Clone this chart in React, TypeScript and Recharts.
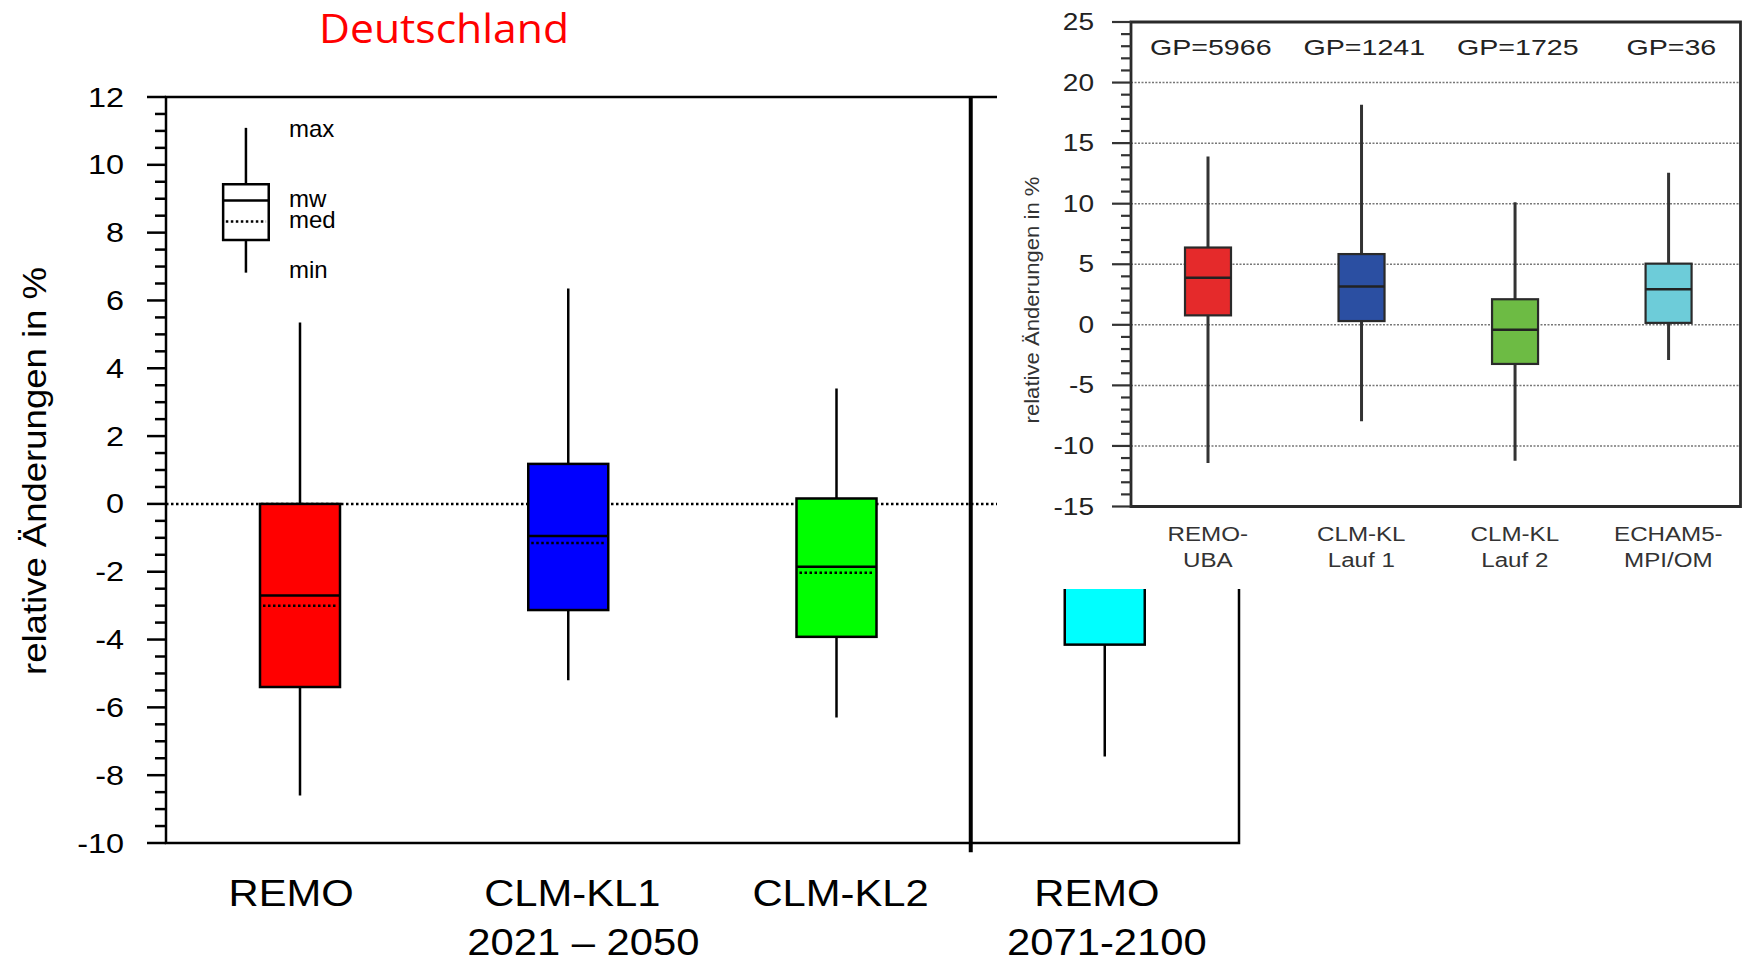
import React from 'react';
import { ComposedChart, Bar, XAxis, YAxis, CartesianGrid, ReferenceLine, ReferenceArea } from 'recharts';

// main panel: Deutschland, relative change in %
const mainCatTop = ['REMO', 'CLM-KL1', 'CLM-KL2', 'REMO'];
const mainCatBottom = ['', '2021 – 2050', '', '2071-2100'];
const mainMin = [-8.6, -5.2, -6.3, -7.45];
const mainQ1 = [-5.4, -3.13, -3.92, -4.15];
const mainMedian = [-3.0, -1.15, -2.03, -1.8];
const mainMean = [-2.7, -0.95, -1.85, -1.5];
const mainQ3 = [0.0, 1.18, 0.16, 0.8];
const mainMax = [5.35, 6.35, 3.4, 5.5];
const mainFill = ['#ff0000', '#0000ff', '#00ff00', '#00ffff'];
const mainMajorTicks = [-10, -8, -6, -4, -2, 0, 2, 4, 6, 8, 10, 12];

// explanation box (min, q1, med, mw, q3, max)
const keyValues = [6.82, 7.78, 8.33, 8.95, 9.43, 11.09];
const keyLabels = ['max', 'mw', 'med', 'min'];

// inset panel
const insetCatTop = ['REMO-', 'CLM-KL', 'CLM-KL', 'ECHAM5-'];
const insetCatBottom = ['UBA', 'Lauf 1', 'Lauf 2', 'MPI/OM'];
const insetGP = ['GP=5966', 'GP=1241', 'GP=1725', 'GP=36'];
const insetMin = [-11.4, -7.97, -11.23, -2.91];
const insetQ1 = [0.78, 0.31, -3.23, 0.16];
const insetMid = [3.89, 3.16, -0.41, 2.94];
const insetQ3 = [6.38, 5.84, 2.11, 5.05];
const insetMax = [13.9, 18.17, 10.11, 12.55];
const insetFill = ['#e52a2b', '#2b4fa2', '#6dbb44', '#6dccd9'];
const insetMajorTicks = [-15, -10, -5, 0, 5, 10, 15, 20, 25];
const insetGrid = [-10, -5, 0, 5, 10, 15, 20];

const SANS = '"Liberation Sans", Arial, sans-serif';

const steps = (lo: number, hi: number, step: number) => {
  const out: number[] = [];
  for (let v = lo; v <= hi + 1e-9; v += step) out.push(Math.round(v * 100) / 100);
  return out;
};

const mainData = mainCatTop.map((_, i) => ({
  pos: i + 0.5,
  range: [mainMin[i], mainMax[i]],
  min: mainMin[i], q1: mainQ1[i], median: mainMedian[i], mean: mainMean[i], q3: mainQ3[i], max: mainMax[i],
  fill: mainFill[i],
}));

const insetData = insetCatTop.map((_, i) => ({
  pos: i + 0.5,
  range: [insetMin[i], insetMax[i]],
  min: insetMin[i], q1: insetQ1[i], mid: insetMid[i], q3: insetQ3[i], max: insetMax[i],
  fill: insetFill[i],
}));

// maps a value to pixels using the bar's own (scaled) top/height
const pixelOf = (props: any) => {
  const { y, height, payload } = props;
  const top = Math.min(y, y + height);
  const h = Math.abs(height);
  const span = payload.max - payload.min;
  return (v: number) => top + ((payload.max - v) / span) * h;
};

const MainBox = (props: any) => {
  const { x, width, payload } = props;
  const py = pixelOf(props);
  const cx = x + width / 2;
  return (
    <g>
      <line x1={cx} x2={cx} y1={py(payload.max)} y2={py(payload.min)} stroke="#000" strokeWidth={2.5} />
      <rect x={x} y={py(payload.q3)} width={width} height={py(payload.q1) - py(payload.q3)} fill={payload.fill} stroke="#000" strokeWidth={2.5} />
      <line x1={x} x2={x + width} y1={py(payload.mean)} y2={py(payload.mean)} stroke="#000" strokeWidth={2.5} />
      <line x1={x + 3} x2={x + width - 3} y1={py(payload.median)} y2={py(payload.median)} stroke="#000" strokeWidth={2.5} strokeDasharray="2.5 2.5" />
    </g>
  );
};

const InsetBox = (props: any) => {
  const { x, width, payload } = props;
  const py = pixelOf(props);
  const cx = x + width / 2;
  return (
    <g>
      <line x1={cx} x2={cx} y1={py(payload.max)} y2={py(payload.min)} stroke="#333" strokeWidth={3} />
      <rect x={x} y={py(payload.q3)} width={width} height={py(payload.q1) - py(payload.q3)} fill={payload.fill} stroke="#2a2a2a" strokeWidth={2.2} />
      <line x1={x} x2={x + width} y1={py(payload.mid)} y2={py(payload.mid)} stroke="#222" strokeWidth={2.5} />
    </g>
  );
};

const MainYTick = (p: any) => {
  const v = p.payload.value;
  const major = mainMajorTicks.includes(v);
  return (
    <g>
      <line x1={p.x - (major ? 19 : 11)} x2={p.x} y1={p.y} y2={p.y} stroke="#000" strokeWidth={2.5} />
      {major && (
        <g transform={`translate(${p.x - 42},${p.y + 9.5}) scale(1.2,1)`}>
          <text textAnchor="end" fontFamily={SANS} fontSize={27} fill="#000">{String(v)}</text>
        </g>
      )}
    </g>
  );
};

// [dx line 1, dx line 2]
const mainLabelNudge = [[-9, 0], [4, 15], [4, 0], [-8, 2]];

const MainXTick = (p: any) => {
  const i = Math.round(p.payload.value - 0.5);
  const n = mainLabelNudge[i];
  return (
    <g>
      <g transform={`translate(${p.x + n[0]},${p.y + 63}) scale(1.16,1)`}>
        <text textAnchor="middle" fontFamily={SANS} fontSize={36} fill="#000">{mainCatTop[i]}</text>
      </g>
      {mainCatBottom[i] && (
        <g transform={`translate(${p.x + n[1]},${p.y + 112}) scale(1.16,1)`}>
          <text textAnchor="middle" fontFamily={SANS} fontSize={36} fill="#000">{mainCatBottom[i]}</text>
        </g>
      )}
    </g>
  );
};

const InsetYTick = (p: any) => {
  const v = p.payload.value;
  const major = insetMajorTicks.includes(v);
  return (
    <g>
      <line x1={p.x - (major ? 19 : 10)} x2={p.x} y1={p.y} y2={p.y} stroke="#333" strokeWidth={2.2} />
      {major && (
        <g transform={`translate(${p.x - 37},${p.y + 8}) scale(1.22,1)`}>
          <text textAnchor="end" fontFamily={SANS} fontSize={23} fill="#222">{String(v)}</text>
        </g>
      )}
    </g>
  );
};

const InsetXTick = (p: any) => {
  const i = Math.round(p.payload.value - 0.5);
  return (
    <g>
      <g transform={`translate(${p.x + 3},${p.y - 451.5}) scale(1.3,1)`}>
        <text textAnchor="middle" fontFamily={SANS} fontSize={22} fill="#222">{insetGP[i]}</text>
      </g>
      <g transform={`translate(${p.x},${p.y + 34.5}) scale(1.15,1)`}>
        <text textAnchor="middle" fontFamily={SANS} fontSize={21} fill="#333">{insetCatTop[i]}</text>
      </g>
      <g transform={`translate(${p.x},${p.y + 60.5}) scale(1.15,1)`}>
        <text textAnchor="middle" fontFamily={SANS} fontSize={21} fill="#333">{insetCatBottom[i]}</text>
      </g>
    </g>
  );
};

const keyX = 0.298;
const keyHalf = 0.085;

export default function App() {
  const [kMin, kQ1, kMed, kMean, kQ3, kMax] = keyValues;
  return (
    <div style={{ position: 'absolute', left: 0, top: 0, width: 1742, height: 963, background: '#fff', overflow: 'hidden' }}>
      <div style={{ position: 'absolute', left: 0, top: 0 }}>
        <ComposedChart width={1742} height={963} data={mainData} margin={{ top: 97, right: 503, bottom: 0, left: 0 }}>
          <CartesianGrid vertical={false} horizontalValues={[0]} stroke="#000" strokeWidth={2.5} strokeDasharray="2.5 2.5" />
          <XAxis dataKey="pos" type="number" domain={[0, 4]} ticks={[0.5, 1.5, 2.5, 3.5]} interval={0}
            height={120} axisLine={false} tickLine={false} tickSize={0} tickMargin={0} tick={<MainXTick />} />
          <YAxis type="number" domain={[-10, 12]} ticks={steps(-10, 12, 0.5)} interval={0} allowDataOverflow
            width={166} axisLine={false} tickLine={false} tickSize={0} tickMargin={0} tick={<MainYTick />} />
          <ReferenceArea x1={0} x2={4} y1={-10} y2={12} fill="none" stroke="#000" strokeWidth={2.5} />
          <ReferenceLine segment={[{ x: 3, y: 12 }, { x: 3, y: -10.27 }]} ifOverflow="visible" stroke="#000" strokeWidth={4} />
          <ReferenceLine segment={[{ x: keyX, y: kMax }, { x: keyX, y: kQ3 }]} stroke="#000" strokeWidth={2.5} />
          <ReferenceLine segment={[{ x: keyX, y: kQ1 }, { x: keyX, y: kMin }]} stroke="#000" strokeWidth={2.5} />
          <ReferenceArea x1={keyX - keyHalf} x2={keyX + keyHalf} y1={kQ1} y2={kQ3} fill="none" stroke="#000" strokeWidth={2.5} />
          <ReferenceLine segment={[{ x: keyX - keyHalf, y: kMean }, { x: keyX + keyHalf, y: kMean }]} stroke="#000" strokeWidth={2.5} />
          <ReferenceLine segment={[{ x: keyX - keyHalf + 0.01, y: kMed }, { x: keyX + keyHalf - 0.01, y: kMed }]} stroke="#000" strokeWidth={2.5} strokeDasharray="2.5 2.5" />
          <Bar dataKey="range" barSize={80} shape={<MainBox />} isAnimationActive={false} />
        </ComposedChart>
      </div>

      <div style={{ position: 'absolute', left: 997, top: 0, width: 745, height: 589, background: '#fff' }}>
        <ComposedChart width={745} height={589} data={insetData} margin={{ top: 22, right: 1.5, bottom: 0, left: 0 }}>
          <CartesianGrid vertical={false} horizontalValues={insetGrid} stroke="#777" strokeWidth={1.5} strokeDasharray="2 1.5" />
          <XAxis dataKey="pos" type="number" domain={[0, 3.97]} ticks={[0.5, 1.5, 2.5, 3.5]} interval={0} allowDataOverflow
            height={82.5} axisLine={false} tickLine={false} tickSize={0} tickMargin={0} tick={<InsetXTick />} />
          <YAxis type="number" domain={[-15, 25]} ticks={steps(-15, 25, 1)} interval={0} allowDataOverflow
            width={134} axisLine={false} tickLine={false} tickSize={0} tickMargin={0} tick={<InsetYTick />} />
          <ReferenceArea x1={0} x2={3.97} y1={-15} y2={25} fill="none" stroke="#2a2a2a" strokeWidth={2.8} />
          <Bar dataKey="range" barSize={46} shape={<InsetBox />} isAnimationActive={false} />
        </ComposedChart>
      </div>

      <svg width={1742} height={963} style={{ position: 'absolute', left: 0, top: 0, pointerEvents: 'none' }}>
        <text x={444} y={43} textAnchor="middle" fontFamily='"Open Sans", "Noto Sans", sans-serif' fontSize={40}
          fill="#ff0000" textLength={250} lengthAdjust="spacingAndGlyphs">Deutschland</text>
        <text transform="translate(46,471) rotate(-90)" textAnchor="middle" fontFamily={SANS} fontSize={33}
          fill="#000" textLength={408} lengthAdjust="spacingAndGlyphs">relative Änderungen in %</text>
        {keyLabels.map((t, i) => (
          <text key={t} x={289} y={[137, 207, 228, 278][i]} fontFamily={SANS} fontSize={24} fill="#000">{t}</text>
        ))}
        <text transform="translate(1039,300) rotate(-90)" textAnchor="middle" fontFamily={SANS} fontSize={21}
          fill="#333" textLength={247} lengthAdjust="spacingAndGlyphs">relative Änderungen in %</text>
      </svg>
    </div>
  );
}
